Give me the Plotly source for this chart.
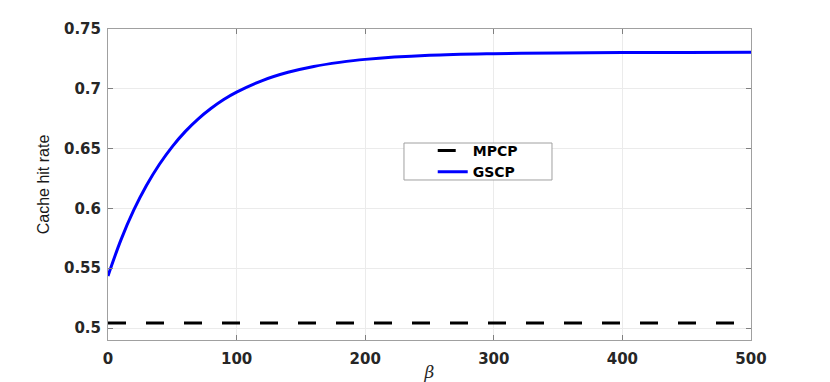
import plotly.graph_objects as go

# beta values
beta = [0, 10, 20, 30, 40, 50, 60, 70, 80, 90, 100, 120, 140, 160, 180,
        200, 250, 300, 350, 400, 450, 500]
gscp = [0.5436, 0.5735, 0.5985, 0.6193, 0.6369, 0.6517, 0.6642, 0.6747,
        0.6835, 0.6910, 0.6972, 0.7069, 0.7138, 0.7187, 0.7221, 0.7246,
        0.7280, 0.7294, 0.7300, 0.7303, 0.7304, 0.7305]
mpcp_x = [0, 500]
mpcp = [0.5042, 0.5042]

y_ticks = [0.5, 0.55, 0.6, 0.65, 0.7, 0.75]
y_ticktext = ["0.5", "0.55", "0.6", "0.65", "0.7", "0.75"]
x_ticks = [0, 100, 200, 300, 400, 500]

TICK_FONT = dict(family="DejaVu Sans", size=15, color="#262626", weight="bold")

fig = go.Figure()
fig.add_trace(go.Scatter(
    x=mpcp_x, y=mpcp, name="MPCP", mode="lines",
    line=dict(color="black", width=3, dash="18px,20px"),
))
fig.add_trace(go.Scatter(
    x=beta, y=gscp, name="GSCP", mode="lines",
    line=dict(color="#0000ff", width=3, shape="spline"),
))

axis_common = dict(
    showline=True, linecolor="#a0a0a0", linewidth=1, mirror="ticks",
    ticks="inside", ticklen=5, tickcolor="#808080",
    showgrid=True, gridcolor="#ebebeb", gridwidth=1,
    zeroline=False, tickfont=TICK_FONT, automargin=False,
)

# the page body has an 8px margin, so the figure is 8px smaller than the window
fig.update_layout(
    width=822, height=374,
    margin=dict(l=100, r=79, t=21, b=42),
    plot_bgcolor="white", paper_bgcolor="white",
    xaxis=dict(
        range=[0, 500], tickvals=x_ticks, ticklabelstandoff=5,
        title=dict(text="<i>β</i>", font=dict(family="DejaVu Serif", size=17, color="#262626"),
                   standoff=0),
        **axis_common,
    ),
    yaxis=dict(
        range=[0.49, 0.75], tickvals=y_ticks, ticktext=y_ticktext, ticklabelstandoff=3,
        title=dict(text="Cache hit rate",
                   font=dict(family="Liberation Sans", size=16, color="#1a1a1a"),
                   standoff=10),
        **axis_common,
    ),
    legend=dict(
        x=0.575, y=0.574, xanchor="center", yanchor="middle",
        bgcolor="rgba(0,0,0,0)", borderwidth=0,
        font=dict(family="DejaVu Sans", size=14, color="black", weight="bold"),
        itemwidth=30, tracegroupgap=0,
    ),
    shapes=[dict(
        type="rect", xref="paper", yref="paper",
        x0=0.4603, x1=0.6905, y0=0.5145, y1=0.6334,
        line=dict(color="#a0a0a0", width=1), fillcolor="white", layer="above",
    )],
    showlegend=True,
)

fig.write_html("out.html")
